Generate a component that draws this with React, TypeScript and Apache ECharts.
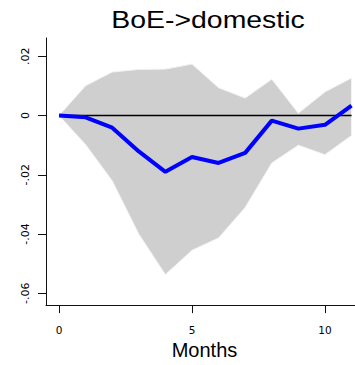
import React, { useEffect, useRef } from "react";
import * as echarts from "echarts";

const months = [0, 1, 2, 3, 4, 5, 6, 7, 8, 9, 10, 11];
const irf = [0, -0.0006, -0.0041, -0.0121, -0.019, -0.014, -0.016, -0.0126, -0.0017, -0.0044, -0.0031, 0.0034];
const upper = [0, 0.0101, 0.0147, 0.0156, 0.0157, 0.0174, 0.0094, 0.0059, 0.0123, 0.0008, 0.008, 0.0127];
const lower = [0, -0.0098, -0.022, -0.04, -0.0537, -0.0455, -0.0413, -0.031, -0.016, -0.01, -0.0132, -0.0067];
const yTicks = [-0.06, -0.04, -0.02, 0, 0.02];
const xTicks = [0, 5, 10];
const title = "BoE->domestic";
const xName = "Months";

const fmtY = (v: number) => {
  if (Math.abs(v) < 1e-9) return "0";
  const s = Math.abs(v).toFixed(2).replace(/^0/, "");
  return (v < 0 ? "-" : "") + s;
};

export default function App() {
  const ref = useRef<HTMLDivElement>(null);
  useEffect(() => {
    if (!ref.current) return;
    const chart = echarts.init(ref.current, null, { renderer: "svg" });
    const option: any = {
      animation: false,
      backgroundColor: "#ffffff",
      grid: { left: 46, right: 0, top: 38, bottom: 51, containLabel: false },
      graphic: [
        {
          type: "text",
          x: 208,
          y: 19.5,
          scaleX: 1.16,
          style: {
            text: title,
            font: "24.5px 'Liberation Sans', Arial, sans-serif",
            fill: "#000",
            textAlign: "center",
            textVerticalAlign: "middle",
          },
        },
      ],
      xAxis: {
        type: "value",
        min: -0.49,
        max: 11.13,
        name: xName,
        nameLocation: "middle",
        nameGap: 25,
        nameTextStyle: {
          fontFamily: "'Liberation Sans', Arial, sans-serif",
          fontSize: 20,
          color: "#000",
          padding: [0, 0, 0, 8],
        },
        axisLine: { show: true, onZero: false, lineStyle: { color: "#111", width: 1 } },
        axisTick: { show: true, customValues: xTicks, length: 8, lineStyle: { color: "#111" } },
        axisLabel: {
          customValues: xTicks,
          margin: 19,
          fontFamily: "'DejaVu Sans', sans-serif",
          fontSize: 10.5,
          color: "#000",
        },
        splitLine: { show: false },
      },
      yAxis: {
        type: "value",
        min: -0.064,
        max: 0.0262,
        axisLine: { show: true, onZero: false, lineStyle: { color: "#111", width: 1 } },
        axisTick: { show: true, customValues: yTicks, length: 8, lineStyle: { color: "#111" } },
        axisLabel: {
          customValues: yTicks,
          rotate: 90,
          margin: 15,
          fontFamily: "'DejaVu Sans', sans-serif",
          fontSize: 11,
          color: "#000",
          formatter: (v: number) => fmtY(v),
        },
        splitLine: { show: false },
      },
      series: [
        {
          type: "custom",
          coordinateSystem: "cartesian2d",
          clip: false,
          data: [[0, 0]],
          z: 1,
          renderItem: (params: any, api: any) => {
            if (params.dataIndex !== 0) return null;
            const pts: number[][] = [];
            months.forEach((m, i) => pts.push(api.coord([m, upper[i]])));
            for (let i = months.length - 1; i >= 0; i--) pts.push(api.coord([months[i], lower[i]]));
            return {
              type: "polygon",
              shape: { points: pts },
              style: { fill: "#cfcfcf", stroke: "#f3f3f3", lineWidth: 1 },
            };
          },
        },
        {
          type: "line",
          data: months.map((m) => [m, 0]),
          symbol: "none",
          z: 2,
          lineStyle: { color: "#000", width: 1.5 },
        },
        {
          type: "line",
          data: months.map((m, i) => [m, irf[i]]),
          symbol: "none",
          z: 3,
          lineStyle: { color: "#0000ff", width: 4 },
        },
      ],
    };
    chart.setOption(option);
    return () => chart.dispose();
  }, []);
  return (
    <div
      ref={ref}
      style={{ position: "fixed", left: 0, top: 0, width: 355, height: 365 }}
    />
  );
}
